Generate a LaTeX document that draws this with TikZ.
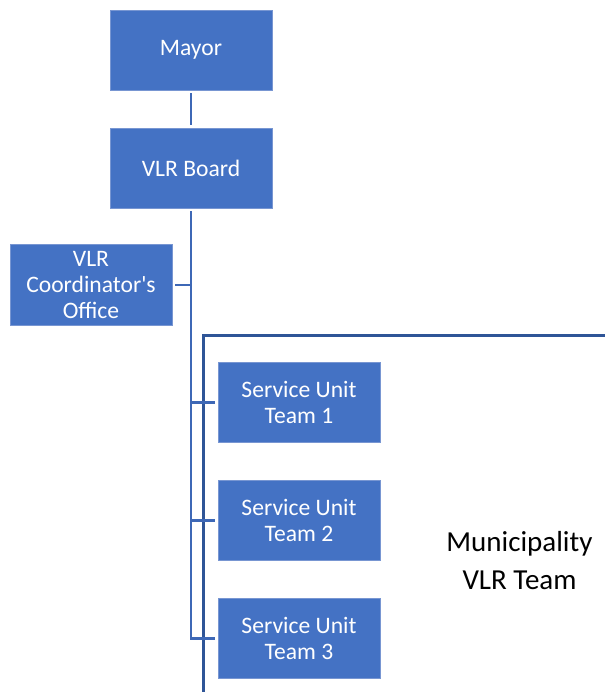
\documentclass[tikz,border=0pt]{standalone}
\usepackage{fontspec}
\newfontfamily\orgfont{Carlito}
\definecolor{boxblue}{RGB}{68,114,196}
\definecolor{boxedge}{RGB}{120,150,210}
\definecolor{linkblue}{RGB}{62,104,182}
\definecolor{teamframe}{RGB}{47,85,151}
\tikzset{
	unit/.style={rectangle, fill=boxblue, draw=boxedge, line width=0.4pt, minimum width=81pt, minimum height=40pt,
		align=center, text=white, font=\orgfont\fontsize{11.8}{13}\selectfont, outer sep=1.6pt},
	link/.style={draw=linkblue, line width=1.1pt}
}
\begin{document}
\begin{tikzpicture}[x=0.5pt, y=-0.5pt]
	\useasboundingbox (0,0) rectangle (605,692);
	\draw[teamframe, line width=1.1pt] (606,335.5) -- (203.5,335.5) -- (203.5,693);
	\node[unit] (mayor) at (191,50) {Mayor};
	\node[unit] (board) at (191,168) {VLR Board};
	\node[unit] (coord) at (91,285) {VLR\\Coordinator's\\Office};
	\node[unit] (team1) at (299,402.5) {Service Unit\\Team 1};
	\node[unit] (team2) at (299,520.5) {Service Unit\\Team 2};
	\node[unit] (team3) at (299,638.5) {Service Unit\\Team 3};
	\node[align=center, font=\orgfont\fontsize{14.5}{19}\selectfont] (muni) at (519.5,561) {Municipality\\VLR Team};
	\draw[link] (mayor) -- (board);
	\draw[link] (board) -- (board |- team3) -- (team3);
	\draw[link] (board |- team1) -- (team1);
	\draw[link] (board |- team2) -- (team2);
	\draw[link] (coord) -- (coord -| board);
\end{tikzpicture}
\end{document}
